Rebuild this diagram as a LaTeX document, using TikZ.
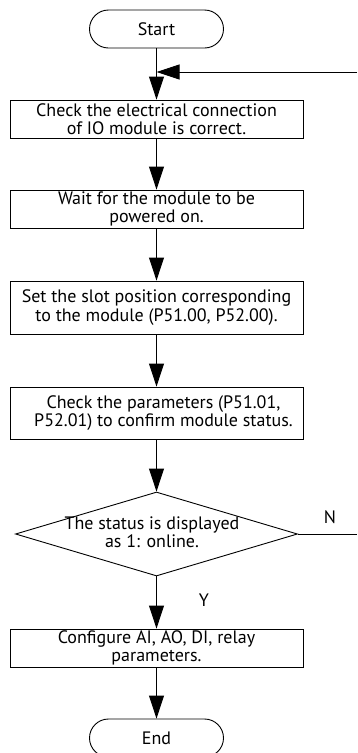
\documentclass[tikz,border=0pt]{standalone}
\usepackage{fontspec}
\setmainfont{PT Sans}
\usetikzlibrary{arrows.meta,shapes.geometric}
\tikzset{
  txt/.style={font=\fontsize{18}{18.5}\selectfont},
  flow/.style={draw=black, line width=0.9pt},
  stepbox/.style={draw=black, line width=0.9pt, rectangle, minimum width=293pt,
    inner sep=0pt, align=center, txt},
  terminal/.style={draw=black, line width=0.9pt, rectangle, rounded corners=19pt,
    minimum width=134pt, minimum height=38pt, inner sep=0pt, txt},
  decision/.style={draw=black, line width=0.9pt, diamond, aspect=3.36,
    minimum width=282pt, minimum height=84pt, inner sep=0pt},
  arr/.style={flow, -{Triangle[length=23pt,width=15pt]}},
  lbl/.style={txt, inner sep=0pt}
}
\begin{document}
\begin{tikzpicture}[x=1pt,y=-1pt]
  \useasboundingbox (0,0) rectangle (357,753);

  \node[terminal] (start) at (156.5,29) {Start};
  \node[stepbox, minimum height=38pt] (b1) at (156.5,119)
    {Check the electrical connection\\of IO module is correct.};
  \node[stepbox, minimum height=38pt] (b2) at (156.5,209)
    {Wait for the module to be\\powered on.};
  \node[stepbox, minimum height=53pt] (b3) at (156.5,307.5)
    {Set the slot position corresponding\\to the module (P51.00, P52.00).};
  \node[stepbox, minimum height=52pt] (b4) at (156.5,413)
    {\hspace*{14pt}Check the parameters (P51.01,\\
     \hspace*{14pt}P52.01) to confirm module status.};
  \node[decision] (dec) at (156.5,534) {};
  \node[lbl, align=center] (dectext) at (152,532)
    {The status is displayed\\as 1: online.};
  \node[stepbox, minimum height=38pt] (b5) at (156.5,648)
    {Configure AI, AO, DI, relay\\parameters.};
  \node[terminal] (end) at (156.5,738) {End};

  % loop-back entry and exit at the right edge
  \coordinate (merge) at (156.5,72);
  \coordinate (loopin) at (357,72);
  \coordinate (loopout) at (357,534);

  \node[lbl] (nlabel) at (330,517) {N};
  \node[lbl] (ylabel) at (204,600) {Y};

  \draw[arr] (start) -- (b1);
  \draw[arr] (loopin) -- (merge);
  \draw[arr] (b1) -- (b2);
  \draw[arr] (b2) -- (b3);
  \draw[arr] (b3) -- (b4);
  \draw[arr] (b4) -- (dec);
  \draw[flow] (dec.east) -- (loopout);
  \draw[arr] (dec) -- (b5);
  \draw[arr] (b5) -- (end);
\end{tikzpicture}
\end{document}
